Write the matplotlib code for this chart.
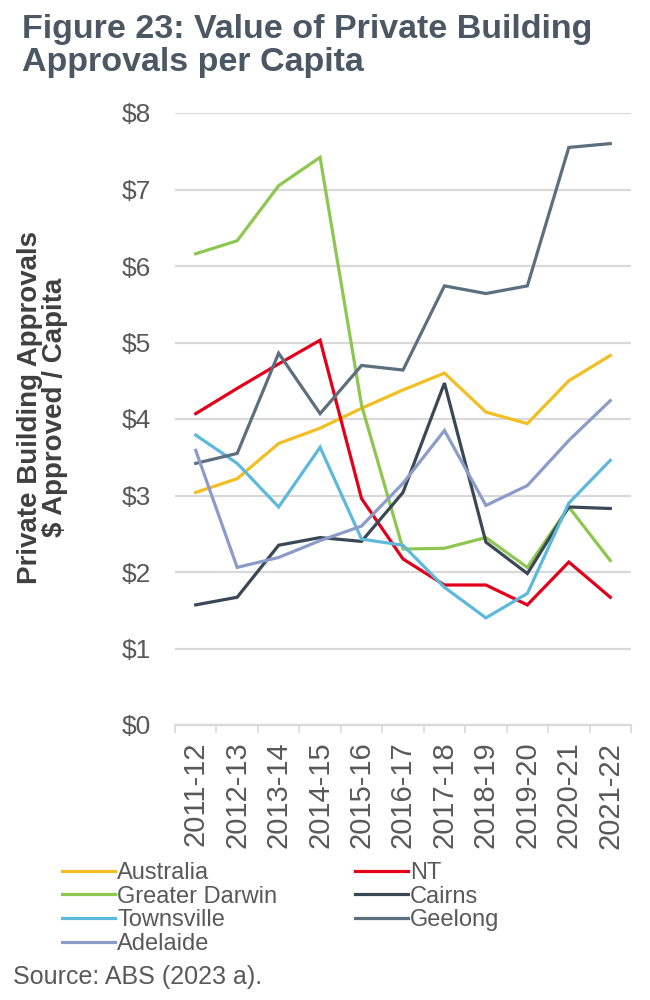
import matplotlib
matplotlib.use("Agg")
import matplotlib.pyplot as plt
import numpy as np

plt.rcParams['font.family'] = ['Liberation Sans', 'DejaVu Sans']

years = ['2011-12', '2012-13', '2013-14', '2014-15', '2015-16', '2016-17',
         '2017-18', '2018-19', '2019-20', '2020-21', '2021-22']

australia = [3.04, 3.22, 3.68, 3.88, 4.14, 4.38, 4.60, 4.09, 3.94, 4.50, 4.83]
nt = [4.07, 4.40, 4.72, 5.03, 2.96, 2.17, 1.83, 1.83, 1.57, 2.13, 1.67]
darwin = [6.16, 6.33, 7.05, 7.42, 4.18, 2.30, 2.31, 2.45, 2.06, 2.85, 2.15]
cairns = [1.57, 1.67, 2.35, 2.45, 2.40, 3.04, 4.47, 2.39, 1.98, 2.85, 2.83]
townsville = [3.79, 3.42, 2.85, 3.63, 2.43, 2.35, 1.80, 1.40, 1.72, 2.90, 3.46]
geelong = [3.42, 3.55, 4.86, 4.07, 4.70, 4.64, 5.74, 5.64, 5.74, 7.55, 7.60]
adelaide = [3.59, 2.06, 2.19, 2.41, 2.60, 3.16, 3.85, 2.87, 3.13, 3.72, 4.24]

series = [
    ('Australia', australia, '#F2BE22'),
    ('NT', nt, '#E2001A'),
    ('Greater Darwin', darwin, '#8DC750'),
    ('Cairns', cairns, '#3A4856'),
    ('Townsville', townsville, '#5DB9DC'),
    ('Geelong', geelong, '#5C6F7E'),
    ('Adelaide', adelaide, '#8C9CC8'),
]

fig = plt.figure(figsize=(6.5, 10), dpi=100)
ax = fig.add_axes([175 / 650, 0.275, 456 / 650, 0.612])

x = np.arange(len(years))
lines = {}
for name, vals, col in series:
    ln, = ax.plot(x, vals, color=col, lw=2.3, label=name, solid_joinstyle='miter')
    lines[name] = ln

ax.set_xlim(-0.5, len(years) - 0.5)
ax.set_ylim(0, 8)
ax.set_yticks(range(0, 9))
ax.set_yticklabels([f'${v}' for v in range(0, 9)])
ax.yaxis.grid(True, color='#D9D9D9', lw=1.6)
ax.set_axisbelow(True)
for s in ['top', 'right', 'left']:
    ax.spines[s].set_visible(False)
ax.spines['bottom'].set_color('#D9D9D9')
ax.spines['bottom'].set_linewidth(1.6)

ax.set_xticks(x)
ax.set_xticklabels(years, rotation=90)
ax.set_xticks(np.arange(-0.5, len(years)), minor=True)
ax.tick_params(axis='x', which='major', length=0, pad=12, labelsize=21, labelcolor='#595959')
ax.tick_params(axis='x', which='minor', length=6, color='#D9D9D9', width=1.2)
ax.tick_params(axis='y', length=0, pad=17, labelsize=19, labelcolor='#595959')

fig.text(22 / 650, 1 - 14 / 1000, 'Figure 23: Value of Private Building\nApprovals per Capita',
         fontsize=24.5, fontweight='bold', color='#4B5864', va='top', ha='left',
         linespacing=1.08)

fig.text(0.065, 0.593, 'Private Building Approvals\n$ Approved / Capita',
         rotation=90, fontsize=20, fontweight='bold', color='#3F3F3F',
         ha='center', va='center', multialignment='center', linespacing=0.95)

order = ['Australia', 'Greater Darwin', 'Townsville', 'Adelaide', 'NT', 'Cairns', 'Geelong']
fig.legend([lines[n] for n in order], order, loc='upper left',
           bbox_to_anchor=(62 / 650, 1 - 862 / 1000), ncol=2, frameon=False,
           fontsize=17, handlelength=2.25, handletextpad=0.08, labelspacing=0.07,
           columnspacing=3.3, borderpad=0, borderaxespad=0, labelcolor='#595959')

fig.text(13 / 650, 1 - 977 / 1000, 'Source: ABS (2023 a).', fontsize=18,
         color='#595959', va='center', ha='left')

fig.savefig('out.png', dpi=100)
